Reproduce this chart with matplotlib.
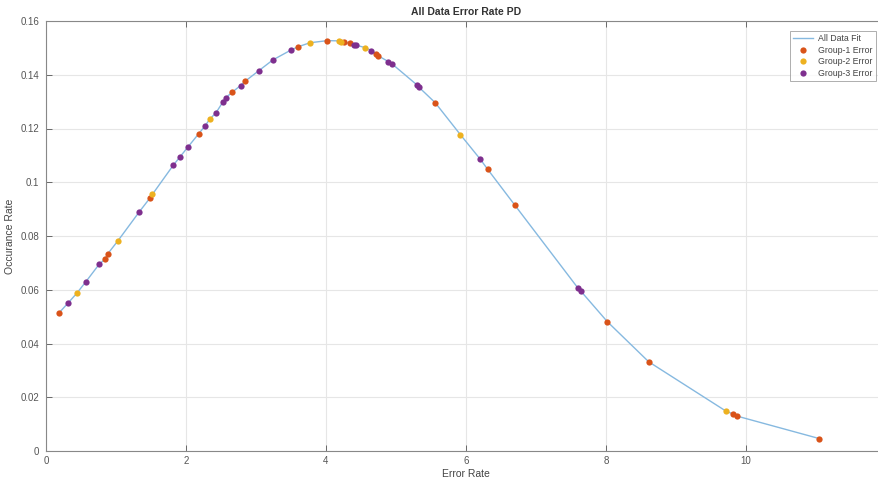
import numpy as np
import matplotlib
matplotlib.use("Agg")
import matplotlib.pyplot as plt

# values
g1_x = [0.19, 0.84, 0.88, 1.49, 2.18, 2.66, 2.85, 3.60, 4.02, 4.26, 4.34, 4.72, 4.75,
        5.56, 6.31, 6.70, 8.02, 8.61, 9.82, 9.87, 11.05]
g1_y = [0.0515, 0.0713, 0.0733, 0.0943, 0.1180, 0.1335, 0.1377, 0.1504, 0.1527, 0.1521, 0.1517,
        0.1477, 0.1470, 0.1296, 0.1048, 0.0914, 0.0481, 0.0332, 0.0137, 0.0130, 0.0046]

g2_x = [0.44, 1.03, 1.52, 2.34, 3.77, 4.19, 4.22, 4.56, 5.92, 9.71]
g2_y = [0.0587, 0.0783, 0.0955, 0.1235, 0.1519, 0.1526, 0.1523, 0.1501, 0.1177, 0.0149]

g3_x = [0.32, 0.57, 0.76, 1.33, 1.82, 1.91, 2.03, 2.27, 2.43, 2.53, 2.57, 2.78, 3.04,
        3.24, 3.50, 4.40, 4.43, 4.65, 4.89, 4.95, 5.30, 5.33, 6.20, 7.60, 7.64]
g3_y = [0.0552, 0.0630, 0.0695, 0.0889, 0.1064, 0.1093, 0.1132, 0.1209, 0.1259, 0.1300, 0.1315,
        0.1360, 0.1415, 0.1455, 0.1492, 0.1512, 0.1510, 0.1490, 0.1449, 0.1439, 0.1362, 0.1353,
        0.1087, 0.0606, 0.0595]

y_ticks = [0, 0.02, 0.04, 0.06, 0.08, 0.1, 0.12, 0.14, 0.16]
y_ticklabels = ['0', '0.02', '0.04', '0.06', '0.08', '0.1', '0.12', '0.14', '0.16']
x_ticks = [0, 2, 4, 6, 8, 10]

# fit line goes through all points in x order
all_x = np.array(g1_x + g2_x + g3_x)
all_y = np.array(g1_y + g2_y + g3_y)
order = np.argsort(all_x)

plt.rcParams['font.family'] = ['Liberation Sans', 'DejaVu Sans']
fig = plt.figure(figsize=(8.79, 4.79), dpi=100)
ax = fig.add_axes([46 / 879, 28 / 479, 840 / 879, 430 / 479])

ax.plot(all_x[order], all_y[order], color='#86b9e0', lw=1.0, label='All Data Fit', zorder=2)
ax.plot(g1_x, g1_y, 'o', color='#D95319', ms=4.5, mec='none', label='Group-1 Error', zorder=3)
ax.plot(g2_x, g2_y, 'o', color='#EDB120', ms=4.5, mec='none', label='Group-2 Error', zorder=3)
ax.plot(g3_x, g3_y, 'o', color='#7E2F8E', ms=4.5, mec='none', label='Group-3 Error', zorder=3)

ax.set_xlim(0, 12)
ax.set_ylim(0, 0.16)
ax.set_xticks(x_ticks)
ax.set_yticks(y_ticks)
ax.set_yticklabels(y_ticklabels)
ax.tick_params(direction='in', length=4, width=0.6, labelsize=7, colors='#555555',
               top=True, right=True)
ax.tick_params(axis='y', pad=5)
for s in ax.spines.values():
    s.set_color('#888888')
    s.set_linewidth(0.8)
ax.grid(True, color='#e6e6e6', lw=0.8)
ax.set_axisbelow(True)

ax.set_xlabel('Error Rate', fontsize=7.5, color='#444444', labelpad=2)
ax.set_ylabel('Occurance Rate', fontsize=7.5, color='#444444', labelpad=4)
ax.set_title('All Data Error Rate PD', fontsize=7.5, fontweight='bold', color='#333333', pad=4)

leg = ax.legend(loc='upper right', bbox_to_anchor=(876 / 879, 1 - 31 / 479),
                bbox_transform=fig.transFigure, borderaxespad=0,
                fontsize=6.3, frameon=True, fancybox=False,
                handlelength=2.3, handletextpad=0.6, labelspacing=0.3, borderpad=0.35)
leg.get_frame().set_edgecolor('#999999')
leg.get_frame().set_linewidth(0.7)
for t in leg.get_texts():
    t.set_color('#444444')

fig.savefig('out.png', dpi=100)
